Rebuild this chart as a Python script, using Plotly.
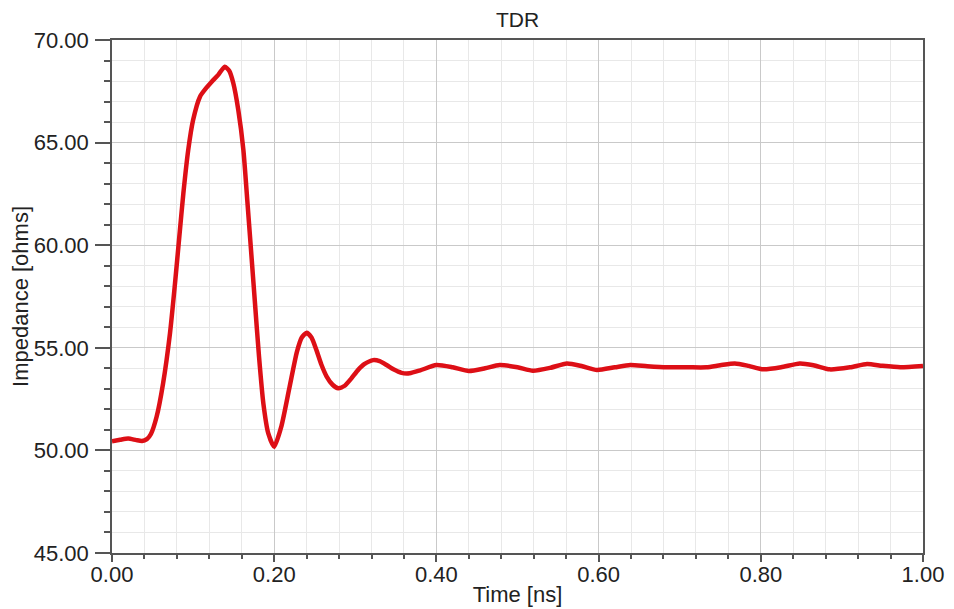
import plotly.graph_objects as go

time_ns = [0.0, 0.01, 0.02, 0.03, 0.037, 0.043, 0.048, 0.055, 0.063, 0.0715, 0.0777, 0.083,
           0.088, 0.094, 0.100, 0.1085, 0.116, 0.123, 0.131, 0.139, 0.1445, 0.1496, 0.1557,
           0.162, 0.1668, 0.1714, 0.1763, 0.1813, 0.1866, 0.1927, 0.200, 0.209, 0.219,
           0.228, 0.234, 0.240, 0.246, 0.2524, 0.258, 0.2647, 0.272, 0.279, 0.287, 0.295,
           0.303, 0.311, 0.322, 0.330, 0.339, 0.347, 0.357, 0.367, 0.380, 0.400, 0.420,
           0.440, 0.460, 0.478, 0.500, 0.519, 0.540, 0.561, 0.580, 0.598, 0.620, 0.639,
           0.660, 0.684, 0.710, 0.733, 0.750, 0.768, 0.785, 0.803, 0.825, 0.848, 0.865,
           0.885, 0.910, 0.931, 0.950, 0.972, 1.0]
impedance = [50.45, 50.52, 50.58, 50.5, 50.46, 50.55, 50.8, 51.64, 53.27, 55.71, 58.14, 60.41,
             62.53, 64.64, 66.1, 67.24, 67.65, 67.97, 68.3, 68.7, 68.5, 67.89, 66.59,
             64.64, 62.2, 59.77, 57.17, 54.57, 52.3, 50.83, 50.18, 51.2, 53.1,
             54.8, 55.5, 55.73, 55.5, 54.85, 54.2, 53.6, 53.2, 53.03, 53.15, 53.5,
             53.9, 54.2, 54.4, 54.35, 54.15, 53.95, 53.78, 53.76, 53.9, 54.16, 54.05,
             53.87, 54.0, 54.16, 54.05, 53.88, 54.02, 54.24, 54.1, 53.92, 54.05, 54.16,
             54.1, 54.05, 54.05, 54.05, 54.15, 54.24, 54.12, 53.95, 54.05, 54.24, 54.15,
             53.95, 54.05, 54.21, 54.12, 54.05, 54.11]

x_ticks = [0.0, 0.2, 0.4, 0.6, 0.8, 1.0]
y_ticks = [45, 50, 55, 60, 65, 70]

font_family = "Liberation Sans, Arial, sans-serif"
text_color = "#222222"

fig = go.Figure()
fig.add_trace(go.Scatter(
    x=time_ns, y=impedance, mode="lines",
    line=dict(color="#dd0f16", width=4.5, shape="spline", smoothing=0.6),
    showlegend=False, hoverinfo="x+y",
))

axis_common = dict(
    showline=True, linecolor="#555555", linewidth=1.5, mirror=True,
    gridcolor="#c9c9c9", gridwidth=1, zeroline=False, automargin=False,
    ticks="outside", tickcolor="#555555",
    tickfont=dict(size=22, color=text_color, family=font_family),
)

fig.update_xaxes(
    range=[0, 1], tickvals=x_ticks, ticktext=[f"{v:.2f}" for v in x_ticks],
    ticklen=7, tickwidth=1.5, ticklabelstandoff=-6,
    minor=dict(dtick=0.04, tick0=0, ticklen=4, tickcolor="#555555", showgrid=True, gridcolor="#e8e8e8"),
    title=dict(text="Time [ns]", font=dict(size=22, color=text_color, family=font_family), standoff=0),
    **axis_common,
)
fig.update_yaxes(
    range=[45, 70], tickvals=y_ticks, ticktext=[f"{v:.2f}" for v in y_ticks],
    ticklen=15, tickwidth=1.5, ticklabelstandoff=2,
    minor=dict(dtick=1, tick0=45, ticklen=6, tickcolor="#555555", showgrid=True, gridcolor="#e8e8e8"),
    title=dict(text="Impedance [ohms]", font=dict(size=22, color=text_color, family=font_family), standoff=2),
    **axis_common,
)

fig.update_layout(
    width=946, height=601,
    margin=dict(l=104, r=31, t=32, b=56),
    paper_bgcolor="white", plot_bgcolor="white",
    title=dict(text="TDR", xref="paper", x=0.5, xanchor="center", y=0.981, yanchor="middle",
               font=dict(size=21, color=text_color, family=font_family)),
    font=dict(family=font_family),
)

fig.write_html("out.html")
